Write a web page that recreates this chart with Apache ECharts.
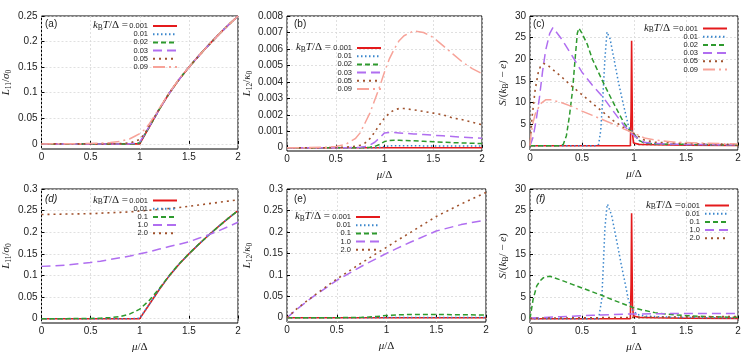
<!DOCTYPE html>
<html>
<head>
<meta charset="utf-8">
<script src="https://cdn.jsdelivr.net/npm/echarts@6/dist/echarts.min.js"></script>
<style>
  html, body { margin: 0; padding: 0; background: #fff; }
  #chart { width: 747px; height: 357px; }
</style>
</head>
<body>
<div id="chart"></div>
<script>
// ---- tick labels ----
const muTicks = [0, 0.5, 1, 1.5, 2]
const ticksL11a = [0, 0.05, 0.1, 0.15, 0.2, 0.25]
const ticksL12b = [0, 0.001, 0.002, 0.003, 0.004, 0.005, 0.006, 0.007, 0.008]
const ticksS = [0, 5, 10, 15, 20, 25, 30]
const ticksL03 = [0, 0.05, 0.1, 0.15, 0.2, 0.25, 0.3]

// ---- (a) L11 / sigma0 ----
const muA = [0, 0.2, 0.4, 0.6, 0.7, 0.8, 0.9, 0.95, 1.0, 1.05, 1.1, 1.2, 1.3, 1.4, 1.5, 1.6, 1.7, 1.8, 1.9, 2.0]
const a_T001 = [0, 0, 0, 0, 0, 0, 0, 0, 0, 0.017, 0.034, 0.068, 0.099, 0.126, 0.15, 0.172, 0.193, 0.213, 0.232, 0.25]
const a_T01 = [0, 0, 0, 0, 0, 0, 0, 0, 0.001, 0.017, 0.034, 0.068, 0.099, 0.126, 0.15, 0.172, 0.193, 0.213, 0.232, 0.25]
const a_T02 = [0, 0, 0, 0, 0, 0, 0, 0.0005, 0.002, 0.018, 0.034, 0.068, 0.099, 0.126, 0.15, 0.172, 0.193, 0.213, 0.232, 0.25]
const a_T03 = [0, 0, 0, 0, 0, 0, 0.0005, 0.0015, 0.004, 0.019, 0.035, 0.068, 0.099, 0.126, 0.15, 0.172, 0.193, 0.213, 0.232, 0.25]
const a_T05 = [0, 0, 0, 0, 0, 0.0005, 0.002, 0.005, 0.009, 0.02, 0.036, 0.069, 0.099, 0.126, 0.15, 0.172, 0.193, 0.213, 0.232, 0.25]
const a_T09 = [0, 0.0001, 0.0004, 0.0015, 0.0028, 0.005, 0.01, 0.015, 0.02, 0.028, 0.04, 0.07, 0.1, 0.127, 0.15, 0.172, 0.193, 0.213, 0.232, 0.25]

// ---- (b) L12 / kappa0 ----
const muB = [0, 0.2, 0.4, 0.5, 0.6, 0.7, 0.75, 0.8, 0.85, 0.9, 0.95, 1.0, 1.05, 1.1, 1.15, 1.2, 1.3, 1.4, 1.5, 1.6, 1.7, 1.8, 1.9, 2.0]
const b_T001 = [0, 0, 0, 0, 0, 0, 0, 0, 0, 0, 0, 0, 0, 0, 0, 0, 0, 0, 0, 0, 0, 0, 0, 0]
const b_T01 = [0, 0, 0, 0, 0, 0, 0, 0, 0, 0, 0.00001, 0.00008, 0.00011, 0.00012, 0.00012, 0.00012, 0.00012, 0.00011, 0.00011, 0.0001, 0.0001, 0.0001, 0.0001, 0.0001]
const b_T02 = [0, 0, 0, 0, 0, 0, 0, 0.00001, 0.00003, 0.00008, 0.0002, 0.00037, 0.00044, 0.00045, 0.00045, 0.00044, 0.00042, 0.00039, 0.00036, 0.00033, 0.00031, 0.00029, 0.00027, 0.00025]
const b_T03 = [0, 0, 0, 0, 0, 0.00001, 0.00003, 0.00007, 0.00016, 0.00033, 0.0006, 0.0009, 0.00093, 0.00092, 0.0009, 0.00088, 0.00084, 0.0008, 0.00076, 0.00072, 0.00068, 0.00064, 0.0006, 0.00057]
const b_T05 = [0, 0, 0, 0.00001, 0.00003, 0.00008, 0.00015, 0.00028, 0.00055, 0.00095, 0.0014, 0.0018, 0.0021, 0.0023, 0.00238, 0.00238, 0.0023, 0.0022, 0.0021, 0.002, 0.0018, 0.0017, 0.00155, 0.0014]
const b_T09 = [0, 0.000005, 0.00003, 0.00008, 0.0002, 0.00055, 0.0009, 0.0015, 0.0021, 0.0029, 0.0037, 0.0046, 0.0054, 0.006, 0.0065, 0.0068, 0.0071, 0.007, 0.0067, 0.0062, 0.0057, 0.0052, 0.0048, 0.0045]

// ---- (c) Seebeck ----
const c_mu001 = [0, 0.965, 0.972, 0.977, 0.985, 0.995, 1.05, 1.2, 1.5, 2.0]
const c_T001 = [0, 0, 8, 24.3, 3, 0.6, 0.3, 0.2, 0.1, 0.08]
const c_mu01 = [0, 0.64, 0.66, 0.68, 0.7, 0.72, 0.74, 0.77, 0.8, 0.85, 0.9, 0.95, 1.0, 1.05, 1.1, 1.3, 1.6, 2.0]
const c_T01 = [0, 0, 0.3, 3.5, 11, 20, 26.3, 24.7, 21, 14.7, 9.3, 4.2, 2.8, 1.2, 0.6, 0.3, 0.2, 0.15]
const c_mu02 = [0, 0.28, 0.32, 0.35, 0.38, 0.41, 0.43, 0.455, 0.47, 0.5, 0.55, 0.6, 0.7, 0.8, 0.9, 0.96, 1.0, 1.05, 1.1, 1.2, 1.5, 2.0]
const c_T02 = [0, 0, 0.3, 2.3, 7, 13, 19, 26, 27.2, 26, 23.5, 20, 14.8, 10, 5.4, 3.5, 2.7, 1.2, 0.6, 0.4, 0.3, 0.2]
const c_mu03 = [0, 0.03, 0.06, 0.09, 0.12, 0.15, 0.19, 0.22, 0.3, 0.4, 0.5, 0.6, 0.7, 0.8, 0.9, 0.96, 1.0, 1.05, 1.1, 1.2, 1.5, 2.0]
const c_T03 = [0, 2, 6, 11, 17, 22, 26, 27.3, 24.8, 21, 17, 14, 11.3, 8, 4.8, 3.1, 2.4, 1.4, 0.8, 0.5, 0.3, 0.2]
const c_mu05 = [0, 0.02, 0.05, 0.08, 0.1, 0.13, 0.16, 0.2, 0.3, 0.4, 0.5, 0.6, 0.7, 0.8, 0.9, 1.0, 1.1, 1.2, 1.5, 2.0]
const c_T05 = [0, 6.6, 13, 17, 18.3, 19, 18.8, 18, 16, 13.8, 11.8, 9.8, 7.8, 5.8, 4.2, 2.8, 1.3, 0.8, 0.5, 0.3]
const c_mu09 = [0, 0.01, 0.03, 0.05, 0.1, 0.15, 0.2, 0.3, 0.4, 0.5, 0.6, 0.7, 0.8, 0.9, 1.0, 1.1, 1.2, 1.4, 1.7, 2.0]
const c_T09 = [0, 2.7, 5.4, 7.3, 9.7, 10.6, 10.6, 10, 9.1, 8, 7, 6, 5, 3.9, 2.9, 1.8, 1.3, 0.8, 0.55, 0.4]

// ---- (d) L11 / sigma0, higher T ----
const muD = [0, 0.25, 0.5, 0.6, 0.7, 0.8, 0.9, 1.0, 1.1, 1.2, 1.3, 1.4, 1.5, 1.6, 1.7, 1.8, 1.9, 2.0]
const d_T001 = [0, 0, 0, 0, 0, 0, 0, 0, 0.034, 0.068, 0.099, 0.126, 0.15, 0.172, 0.193, 0.213, 0.232, 0.25]
const d_T01 = [0, 0, 0, 0, 0, 0, 0, 0.001, 0.034, 0.068, 0.099, 0.126, 0.15, 0.172, 0.193, 0.213, 0.232, 0.25]
const d_T1 = [0, 0.0001, 0.0006, 0.0012, 0.0025, 0.005, 0.011, 0.022, 0.043, 0.07, 0.1, 0.127, 0.15, 0.172, 0.193, 0.213, 0.232, 0.25]
const d_T10 = [0.121, 0.124, 0.13, 0.133, 0.137, 0.141, 0.145, 0.15, 0.155, 0.161, 0.167, 0.172, 0.178, 0.186, 0.194, 0.203, 0.213, 0.223]
const d_T20 = [0.241, 0.242, 0.243, 0.244, 0.245, 0.246, 0.247, 0.249, 0.251, 0.253, 0.255, 0.257, 0.26, 0.263, 0.266, 0.269, 0.272, 0.275]

// ---- (e) L12 / kappa0, higher T ----
const muE = [0, 0.1, 0.25, 0.5, 0.75, 0.8, 0.9, 1.0, 1.1, 1.25, 1.5, 1.75, 2.0]
const e_T001 = [0, 0, 0, 0, 0, 0, 0, 0, 0, 0, 0, 0, 0]
const e_T01 = [0, 0, 0, 0, 0, 0, 0, 0.0002, 0.0003, 0.0003, 0.0003, 0.0003, 0.0003]
const e_T1 = [0, 0, 0, 0.0001, 0.0008, 0.0013, 0.003, 0.005, 0.0065, 0.0075, 0.0075, 0.007, 0.0062]
const e_T10 = [0, 0.02, 0.047, 0.087, 0.12, 0.126, 0.138, 0.15, 0.161, 0.177, 0.202, 0.217, 0.228]
const e_T20 = [0, 0.021, 0.048, 0.09, 0.128, 0.135, 0.15, 0.164, 0.179, 0.2, 0.236, 0.265, 0.292]

// ---- (f) Seebeck, higher T ----
const f_mu001 = [0, 0.965, 0.972, 0.977, 0.985, 0.995, 1.05, 1.2, 1.5, 2.0]
const f_T001 = [0, 0, 8, 24.4, 3, 0.6, 0.3, 0.2, 0.1, 0.08]
const f_mu01 = [0, 0.66, 0.69, 0.705, 0.72, 0.737, 0.745, 0.785, 0.817, 0.85, 0.88, 0.913, 0.945, 0.978, 1.03, 1.1, 1.4, 2.0]
const f_T01 = [0, 0, 4.5, 12.2, 20.8, 25.4, 26.5, 23.9, 20, 16, 12.2, 8.4, 4.5, 2.2, 1, 0.6, 0.3, 0.15]
const f_mu1 = [0, 0.03, 0.065, 0.1, 0.13, 0.19, 0.3, 0.4, 0.5, 0.6, 0.7, 0.8, 0.9, 1.0, 1.1, 1.2, 1.3, 1.5, 1.75, 2.0]
const f_T1 = [0, 4.5, 7.6, 8.8, 9.5, 9.8, 8.9, 8, 7.1, 6.2, 5.3, 4.3, 3.4, 2.5, 1.9, 1.4, 1.1, 0.7, 0.45, 0.3]
const f_mu10 = [0, 0.3, 0.6, 0.9, 1.2, 1.5, 1.8, 2.0]
const f_T10 = [0.15, 0.45, 0.8, 1.05, 1.15, 1.2, 1.2, 1.2]
const f_mu20 = [0, 0.5, 1.0, 1.5, 2.0]
const f_T20 = [0.1, 0.2, 0.3, 0.4, 0.5]

// ---- styles ----
const RED = '#e41a1c', BLUE = '#3a86cc', GREEN = '#2e9a2e', PURPLE = '#b06ef0', BROWN = '#a0522d', SALMON = '#f7a399'
const styleOf = {
  '0.001': { color: RED, type: 'solid', width: 1.6 },
  '0.01': { color: BLUE, type: [1.5, 2.5], width: 1.5 },
  '0.02': { color: GREEN, type: [5, 3], width: 1.5 },
  '0.1': { color: GREEN, type: [5, 3], width: 1.5 },
  '0.03': { color: PURPLE, type: [9, 5], width: 1.5 },
  '1.0': { color: PURPLE, type: [9, 5], width: 1.5 },
  '0.05': { color: BROWN, type: [2, 4], width: 1.6 },
  '2.0': { color: BROWN, type: [2, 4], width: 1.6 },
  '0.09': { color: SALMON, type: [12, 4, 2, 4], width: 1.5 }
}

const panels = [
  { id: 'a', grid: { left: 39, top: 16, width: 199, height: 133 }, ymin: -0.01, ymax: 0.25, ticks: ticksL11a,
    yname: '{i|L}{s|11}{n|/}{i|σ}{s|0}', gap: 28, xname: false,
    legend: { left: 126, top: 22 }, pre: { right: 619, top: 19 }, label: { left: 45, top: 19, italic: false },
    curves: [['0.001', muA, a_T001], ['0.01', muA, a_T01], ['0.02', muA, a_T02], ['0.03', muA, a_T03], ['0.05', muA, a_T05], ['0.09', muA, a_T09]] },
  { id: 'b', grid: { left: 287, top: 16, width: 195, height: 135 }, ymin: -0.0002, ymax: 0.008, ticks: ticksL12b,
    yname: '{i|L}{s|12}{n|/}{i|κ}{s|0}', gap: 33, xname: true,
    legend: { left: 330, top: 44 }, pre: { right: 416, top: 41 }, label: { left: 294, top: 19, italic: false },
    curves: [['0.001', muB, b_T001], ['0.01', muB, b_T01], ['0.02', muB, b_T02], ['0.03', muB, b_T03], ['0.05', muB, b_T05], ['0.09', muB, b_T09]] },
  { id: 'c', grid: { left: 530, top: 16, width: 208, height: 134 }, ymin: -1, ymax: 30, ticks: ticksS,
    yname: '{i|S}{n|/(}{i|k}{s|B}{n|/ − }{i|e}{n|)}', gap: 20, xname: true,
    legend: { left: 676, top: 24.5 }, pre: { right: 68, top: 21.5 }, label: { left: 533, top: 19, italic: false },
    curves: [['0.001', c_mu001, c_T001], ['0.01', c_mu01, c_T01], ['0.02', c_mu02, c_T02], ['0.03', c_mu03, c_T03], ['0.05', c_mu05, c_T05], ['0.09', c_mu09, c_T09]] },
  { id: 'd', grid: { left: 39, top: 189, width: 199, height: 134 }, ymin: -0.01, ymax: 0.3, ticks: ticksL03,
    yname: '{i|L}{s|11}{n|/}{i|σ}{s|0}', gap: 28, xname: true,
    legend: { left: 126, top: 196.5 }, pre: { right: 619, top: 193.5 }, label: { left: 45, top: 194, italic: true },
    curves: [['0.001', muD, d_T001], ['0.01', muD, d_T01], ['0.1', muD, d_T1], ['1.0', muD, d_T10], ['2.0', muD, d_T20]] },
  { id: 'e', grid: { left: 287, top: 189, width: 199, height: 133 }, ymin: -0.01, ymax: 0.3, ticks: ticksL03,
    yname: '{i|L}{s|12}{n|/}{i|κ}{s|0}', gap: 33, xname: true,
    legend: { left: 329, top: 213 }, pre: { right: 417, top: 210 }, label: { left: 294, top: 194, italic: false },
    curves: [['0.001', muE, e_T001], ['0.01', muE, e_T01], ['0.1', muE, e_T1], ['1.0', muE, e_T10], ['2.0', muE, e_T20]] },
  { id: 'f', grid: { left: 530, top: 189, width: 208, height: 134 }, ymin: -1, ymax: 30, ticks: ticksS,
    yname: '{i|S}{n|/(}{i|k}{s|B}{n|/ − }{i|e}{n|)}', gap: 20, xname: true,
    legend: { left: 678, top: 201.5 }, pre: { right: 66, top: 198.5 }, label: { left: 536, top: 194, italic: true },
    curves: [['0.001', f_mu001, f_T001], ['0.01', f_mu01, f_T01], ['0.1', f_mu1, f_T1], ['1.0', f_mu10, f_T10], ['2.0', f_mu20, f_T20]] }
]

const SANS = 'Liberation Sans'
const SERIF = 'Liberation Serif'
const mathRich = {
  i: { fontFamily: SERIF, fontStyle: 'italic', fontWeight: 'normal', fontSize: 11, color: '#222', lineHeight: 14 },
  n: { fontFamily: SERIF, fontWeight: 'normal', fontSize: 11, color: '#222', lineHeight: 14 },
  s: { fontFamily: SERIF, fontWeight: 'normal', fontSize: 7.5, color: '#222', lineHeight: 14, verticalAlign: 'bottom' }
}
const legendRich = {
  i: { fontFamily: SERIF, fontStyle: 'italic', fontWeight: 'normal', fontSize: 11, color: '#222', lineHeight: 13 },
  n: { fontFamily: SERIF, fontWeight: 'normal', fontSize: 11, color: '#222', lineHeight: 13 },
  s: { fontFamily: SERIF, fontWeight: 'normal', fontSize: 7.5, color: '#222', lineHeight: 13, verticalAlign: 'bottom' }
}

const grids = [], xAxes = [], yAxes = [], series = [], legends = [], titles = []

panels.forEach((p, gi) => {
  grids.push(Object.assign({ show: true, borderColor: '#000', borderWidth: 1, backgroundColor: 'transparent' }, p.grid))
  xAxes.push({
    type: 'value', gridIndex: gi, min: 0, max: 2, interval: 0.5,
    name: p.xname ? '{i|μ}{n|/Δ}' : '', nameLocation: 'middle', nameGap: 17,
    nameTextStyle: { rich: mathRich },
    axisLine: { show: false },
    axisTick: { show: true, inside: true, length: 3, lineStyle: { color: '#000' } },
    axisLabel: { fontFamily: SANS, fontSize: 10, color: '#222', margin: 3, showMinLabel: true, showMaxLabel: true, formatter: v => String(v) },
    splitLine: { show: true, lineStyle: { color: '#d8d8d8', type: [2, 2], width: 0.8 } }
  })
  yAxes.push({
    type: 'value', gridIndex: gi, min: p.ymin, max: p.ymax,
    name: p.yname, nameLocation: 'middle', nameGap: p.gap,
    nameTextStyle: { rich: mathRich },
    axisLine: { show: false },
    axisTick: { show: true, inside: true, length: 3, lineStyle: { color: '#000' }, customValues: p.ticks },
    axisLabel: { fontFamily: SANS, fontSize: 10, color: '#222', margin: 4, customValues: p.ticks, formatter: v => String(v) },
    splitLine: { show: true, lineStyle: { color: '#d8d8d8', type: [2, 2], width: 0.8 } }
  })
  const names = []
  p.curves.forEach(([T, xs, ys]) => {
    const st = styleOf[T]
    const name = p.id + ':' + T
    names.push(name)
    series.push({
      name, type: 'line', xAxisIndex: gi, yAxisIndex: gi,
      data: xs.map((x, k) => [x, ys[k]]),
      showSymbol: false, symbol: 'none', smooth: false,
      color: st.color,
      lineStyle: { color: st.color, width: st.width, type: st.type, cap: 'butt' },
      silent: true, animation: false
    })
  })
  legends.push({
    data: names, orient: 'vertical', align: 'right', left: p.legend.left, top: p.legend.top,
    padding: 0, itemGap: 0.2, itemWidth: 24, itemHeight: 7, selectedMode: false,
    itemStyle: { opacity: 0 },
    formatter: n => n.split(':')[1],
    textStyle: { fontFamily: SANS, fontSize: 7.5, color: '#222', lineHeight: 7, width: 22, align: 'right' }
  })
  titles.push({
    text: '{i|k}{s|B}{i|T}{n|/Δ =}', right: p.pre.right, top: p.pre.top, padding: 0,
    textStyle: { fontWeight: 'normal', rich: legendRich }
  })
  titles.push({
    text: '(' + p.id + ')', left: p.label.left, top: p.label.top, padding: 0,
    textStyle: { fontFamily: SANS, fontSize: 10, fontWeight: 'normal', color: '#222', fontStyle: p.label.italic ? 'italic' : 'normal' }
  })
})

const chart = echarts.init(document.getElementById('chart'), null, { renderer: 'canvas' })
chart.setOption({
  animation: false,
  backgroundColor: '#fff',
  title: titles,
  grid: grids,
  xAxis: xAxes,
  yAxis: yAxes,
  legend: legends,
  series: series
})
</script>
</body>
</html>
